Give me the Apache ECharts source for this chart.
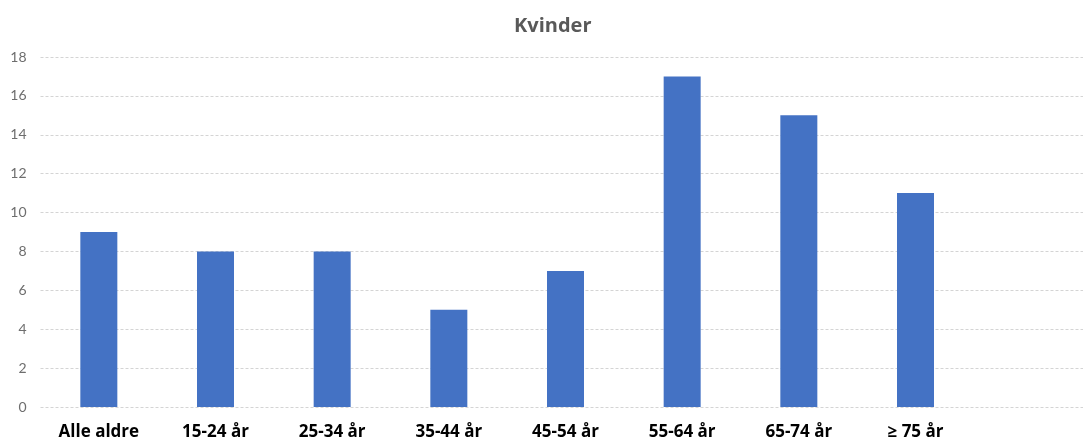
<!DOCTYPE html>
<html>
<head>
<meta charset="utf-8">
<script src="https://cdn.jsdelivr.net/npm/echarts@6/dist/echarts.min.js"></script>
<style>
  html, body { margin: 0; padding: 0; background: #ffffff; }
  #chart { width: 1083px; height: 443px; }
</style>
</head>
<body>
<div id="chart"></div>
<script>
// Age groups (the trailing empty slot keeps the right-hand spacing of the plot)
const categories = ['Alle aldre', '15-24 år', '25-34 år', '35-44 år', '45-54 år', '55-64 år', '65-74 år', '≥ 75 år', ''];
const values = [9, 8, 8, 5, 7, 17, 15, 11, null];
const yTicks = { min: 0, max: 18, interval: 2 };

const chart = echarts.init(document.getElementById('chart'), null, { renderer: 'canvas' });
chart.setOption({
  animation: false,
  title: {
    text: 'Kvinder',
    left: 509,
    top: 11,
    textStyle: { fontFamily: 'Open Sans', fontWeight: 'bold', fontSize: 20, color: '#595959' }
  },
  grid: {
    left: 40.5, top: 57, width: 1050, height: 350,
    containLabel: false,
    outerBoundsMode: 'none'
  },
  xAxis: {
    type: 'category',
    data: categories,
    axisLine: { show: false },
    axisTick: { show: false },
    axisLabel: {
      interval: 0,
      margin: 17,
      fontFamily: 'Open Sans',
      fontWeight: 'bold',
      fontSize: 17,
      color: '#000000'
    }
  },
  yAxis: {
    type: 'value',
    min: yTicks.min,
    max: yTicks.max,
    interval: yTicks.interval,
    axisLine: { show: false },
    axisTick: { show: false },
    axisLabel: { margin: 14, fontFamily: 'Lato', fontSize: 14, color: '#6e6e6e' },
    splitLine: { lineStyle: { color: '#d4d4d4', type: [3, 2], width: 1 } }
  },
  series: [{
    type: 'bar',
    data: values,
    barWidth: 37,
    itemStyle: { color: '#4472C4' }
  }]
});
</script>
</body>
</html>
